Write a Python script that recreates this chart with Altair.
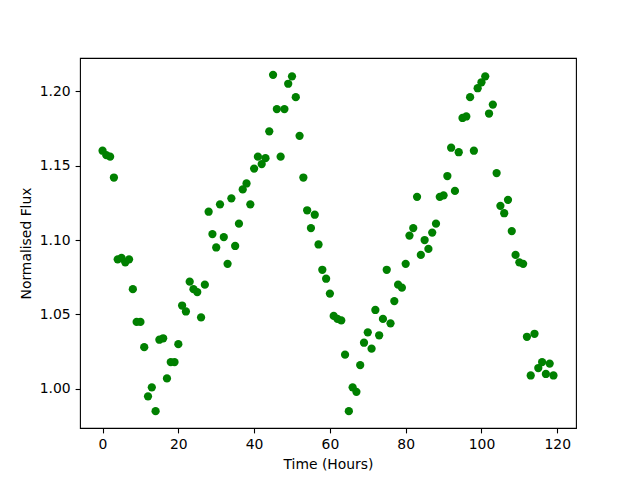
import altair as alt
import pandas as pd

hours = list(range(120))
flux = [
    1.160, 1.157, 1.156, 1.142, 1.087, 1.088, 1.085, 1.087, 1.067, 1.045,
    1.045, 1.028, 0.995, 1.001, 0.985, 1.033, 1.034, 1.007, 1.018, 1.018,
    1.030, 1.056, 1.052, 1.072, 1.067, 1.065, 1.048, 1.070, 1.119, 1.104,
    1.095, 1.124, 1.102, 1.084, 1.128, 1.096, 1.111, 1.134, 1.138, 1.124,
    1.148, 1.156, 1.151, 1.155, 1.173, 1.211, 1.188, 1.156, 1.188, 1.205,
    1.210, 1.196, 1.170, 1.142, 1.120, 1.108, 1.117, 1.097, 1.080, 1.074,
    1.064, 1.049, 1.047, 1.046, 1.023, 0.985, 1.001, 0.998, 1.016, 1.031,
    1.038, 1.027, 1.053, 1.036, 1.047, 1.080, 1.044, 1.059, 1.070, 1.068,
    1.084, 1.103, 1.108, 1.129, 1.090, 1.100, 1.094, 1.105, 1.111, 1.129,
    1.130, 1.143, 1.162, 1.133, 1.159, 1.182, 1.183, 1.196, 1.160, 1.202,
    1.206, 1.210, 1.185, 1.191, 1.145, 1.123, 1.118, 1.127, 1.106, 1.090,
    1.085, 1.084, 1.035, 1.009, 1.037, 1.014, 1.018, 1.010, 1.017, 1.009,
]

df = pd.DataFrame({"t": hours, "f": flux})

FONT = "DejaVu Sans"
FS = 13.9

chart = (
    alt.Chart(df)
    .mark_circle(color="#008000", opacity=1, size=68)
    .encode(
        x=alt.X(
            "t:Q",
            title="Time (Hours)",
            scale=alt.Scale(domain=[-5.95, 124.95], nice=False, zero=False),
            axis=alt.Axis(values=[0, 20, 40, 60, 80, 100, 120], format="d"),
        ),
        y=alt.Y(
            "f:Q",
            title="Normalised Flux",
            scale=alt.Scale(domain=[0.9737, 1.2223], nice=False, zero=False),
            axis=alt.Axis(values=[1.00, 1.05, 1.10, 1.15, 1.20], format=".2f"),
        ),
    )
    .properties(
        width=496,
        height=370,
        autosize=alt.AutoSizeParams(type="none"),
        padding={"left": 72, "top": 50, "right": 56, "bottom": 50},
    )
    .configure_view(stroke="black", strokeWidth=1.1)
    .configure_axis(
        grid=False,
        domain=False,
        ticks=True,
        tickColor="black",
        tickWidth=1.1,
        tickSize=4.9,
        labelPadding=4.9,
        labelFont=FONT,
        labelFontSize=FS,
        labelColor="black",
        titleFont=FONT,
        titleFontSize=FS,
        titleFontWeight="normal",
        titleColor="black",
        titlePadding=5.6,
    )
)

chart.save("out.html", embed_options={"renderer": "svg", "actions": False})
